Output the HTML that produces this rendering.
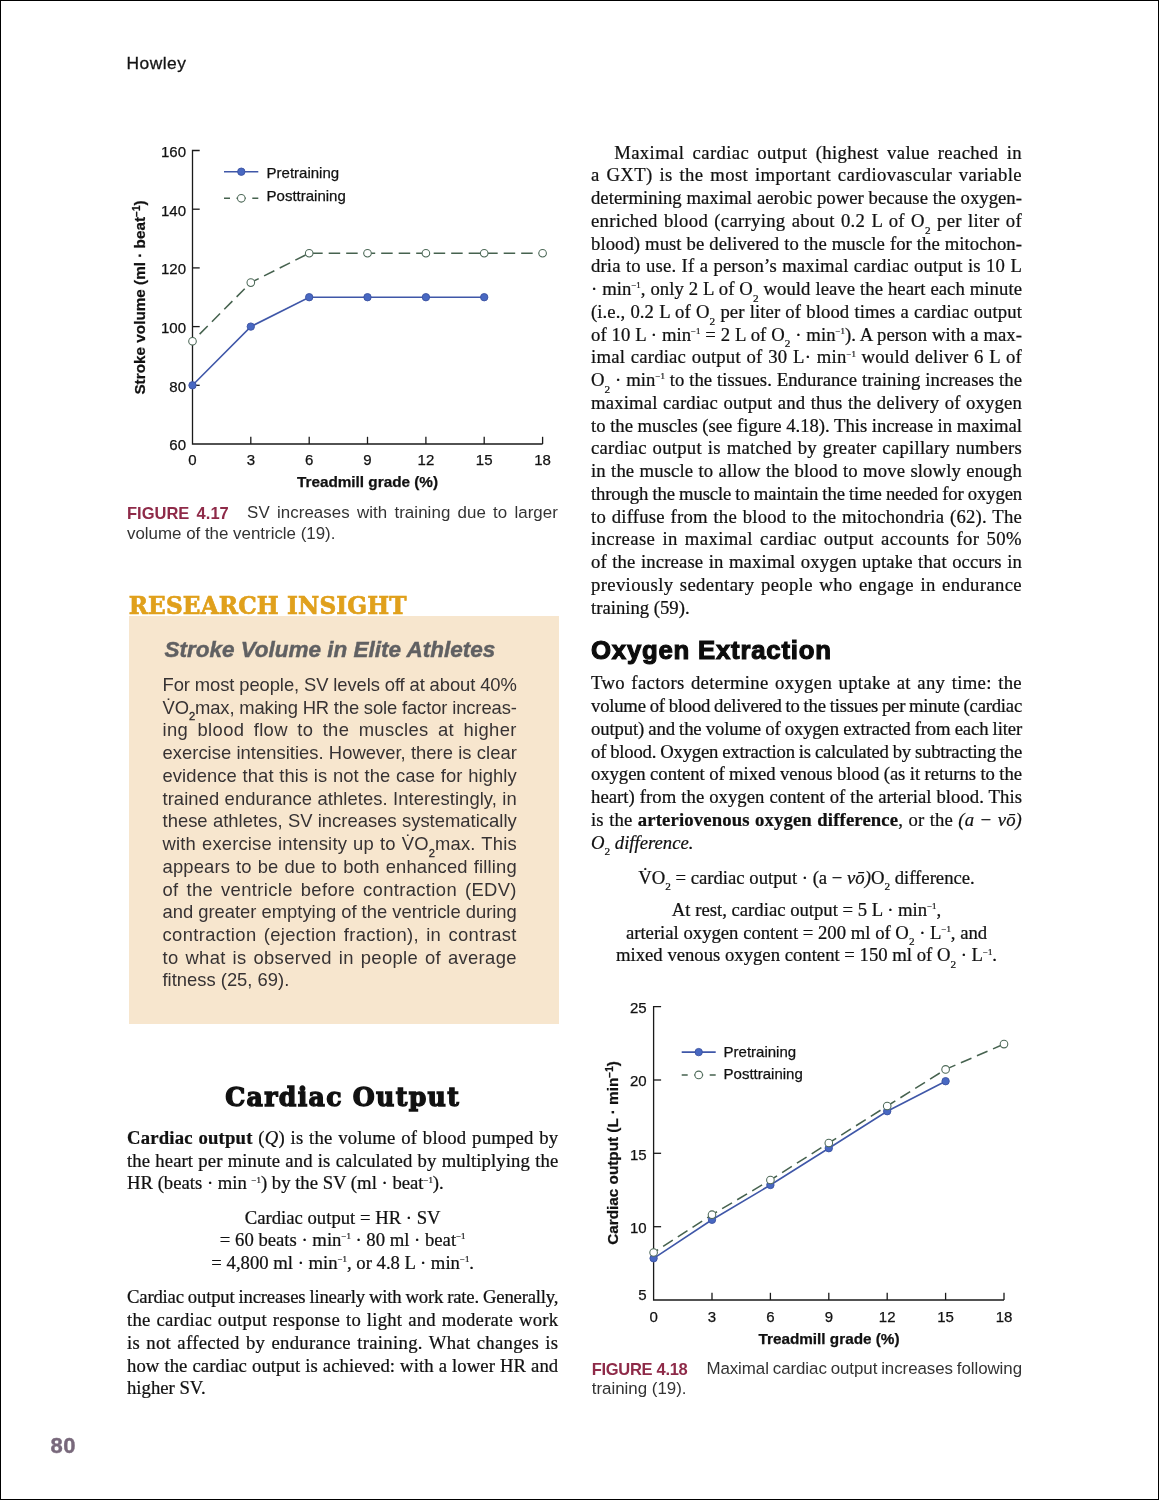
<!DOCTYPE html><html><head><meta charset="utf-8"><title>Howley p80</title><style>
html,body{margin:0;padding:0;background:#fff;}
#pg{position:relative;width:1157px;height:1498px;border:1px solid #000;overflow:hidden;background:#fff;}
.l{position:absolute;white-space:nowrap;margin:0;padding:0;}
.s{font-family:"Liberation Serif",serif;font-size:18.7px;line-height:22px;color:#111;-webkit-text-stroke:0.23px #111;}
.u{font-family:"Liberation Sans",sans-serif;font-size:18.4px;line-height:22px;color:#363233;}
.c{font-family:"Liberation Sans",sans-serif;font-size:16.9px;line-height:20px;color:#333;}
.j{text-align:justify;text-align-last:justify;}
.ctr{text-align:center;}
sub,sup{line-height:0;position:relative;vertical-align:baseline;}
sub{font-size:60%;top:0.6em;font-style:normal;}
sup{font-size:47%;top:-0.76em;letter-spacing:0;}
.u sub{font-size:60%;top:0.58em;-webkit-text-stroke:0.35px #262223;}
.u .vd .dt{left:-0.02em;top:-1.1em;}
.vd{position:relative;display:inline-block;line-height:0;}
.vd .dt{position:absolute;left:0.1em;right:0;text-align:left;top:-1.13em;font-style:normal;line-height:1em;font-weight:bold;}
.fig{color:#8e2a48;font-weight:bold;font-size:16.5px;}
svg{position:absolute;left:0;top:0;}
svg text{font-family:"Liberation Sans",sans-serif;font-size:15px;fill:#111;stroke:#111;stroke-width:0.25px;}

.hw{font-family:"Liberation Sans",sans-serif;font-size:17.4px;line-height:20px;color:#151515;letter-spacing:0.45px;-webkit-text-stroke:0.3px #151515;}
.ri{font-family:"DejaVu Serif",serif;font-weight:bold;font-size:23.2px;line-height:26px;color:#e0a01c;letter-spacing:0.15px;-webkit-text-stroke:0.7px #e0a01c;transform:scaleY(1.07);transform-origin:0 21px;}
.bt{font-family:"Liberation Sans",sans-serif;font-weight:bold;font-style:italic;font-size:22.5px;line-height:24px;color:#606062;letter-spacing:0px;-webkit-text-stroke:0.45px #606062;}
.oe{font-family:"Liberation Sans",sans-serif;font-weight:bold;font-size:25px;line-height:28px;color:#0c0c0c;letter-spacing:0.75px;-webkit-text-stroke:1.1px #0c0c0c;transform:scaleX(1.03);transform-origin:0 0;}
.co{font-family:"DejaVu Serif",serif;font-weight:bold;font-size:25.2px;line-height:30px;color:#111;letter-spacing:1.3px;-webkit-text-stroke:1.3px #111;}
.pn{font-family:"Liberation Sans",sans-serif;font-weight:bold;font-size:22px;line-height:24px;color:#78687b;letter-spacing:0.5px;-webkit-text-stroke:0.4px #78687b;}
#box{position:absolute;left:127.5px;top:615px;width:430.5px;height:407.8px;background:#f7e6ce;}
</style></head><body><div id="pg">
<div id="box"></div>
<svg width="1157" height="1498" viewBox="1 1 1157 1498">
<path d="M199.7 150.5H192.5V444.0H542.6" fill="none" stroke="#1a1a1a" stroke-width="1.3"/>
<path d="M192.5 385.3h7.2" stroke="#1a1a1a" stroke-width="1.3"/>
<path d="M192.5 326.6h7.2" stroke="#1a1a1a" stroke-width="1.3"/>
<path d="M192.5 267.9h7.2" stroke="#1a1a1a" stroke-width="1.3"/>
<path d="M192.5 209.2h7.2" stroke="#1a1a1a" stroke-width="1.3"/>
<path d="M250.8 444.0v-7.2" stroke="#1a1a1a" stroke-width="1.3"/>
<path d="M309.2 444.0v-7.2" stroke="#1a1a1a" stroke-width="1.3"/>
<path d="M367.5 444.0v-7.2" stroke="#1a1a1a" stroke-width="1.3"/>
<path d="M425.9 444.0v-7.2" stroke="#1a1a1a" stroke-width="1.3"/>
<path d="M484.2 444.0v-7.2" stroke="#1a1a1a" stroke-width="1.3"/>
<path d="M542.6 444.0v-7.2" stroke="#1a1a1a" stroke-width="1.3"/>
<text x="186.0" y="450.4" text-anchor="end">60</text>
<text x="186.0" y="391.7" text-anchor="end">80</text>
<text x="186.0" y="333.0" text-anchor="end">100</text>
<text x="186.0" y="274.3" text-anchor="end">120</text>
<text x="186.0" y="215.6" text-anchor="end">140</text>
<text x="186.0" y="156.9" text-anchor="end">160</text>
<text x="192.5" y="464.9" text-anchor="middle">0</text>
<text x="250.8" y="464.9" text-anchor="middle">3</text>
<text x="309.2" y="464.9" text-anchor="middle">6</text>
<text x="367.5" y="464.9" text-anchor="middle">9</text>
<text x="425.9" y="464.9" text-anchor="middle">12</text>
<text x="484.2" y="464.9" text-anchor="middle">15</text>
<text x="542.6" y="464.9" text-anchor="middle">18</text>
<text x="367.5" y="487.4" text-anchor="middle" font-weight="bold" style="font-size:15.3px">Treadmill grade (%)</text>
<text transform="translate(144.8,297.5) rotate(-90)" text-anchor="middle" font-weight="bold" style="font-size:15.3px">Stroke volume (ml · beat<tspan dy="-5" style="font-size:10px">−1</tspan><tspan dy="5">)</tspan></text>
<path d="M192.5 341.3 L250.8 282.6 L309.2 253.2 L367.5 253.2 L425.9 253.2 L484.2 253.2 L542.6 253.2" fill="none" stroke="#46624f" stroke-width="1.55" stroke-dasharray="11.5 6" stroke-dashoffset="7.4"/>
<path d="M192.5 385.3 L250.8 326.6 L309.2 297.2 L367.5 297.2 L425.9 297.2 L484.2 297.2" fill="none" stroke="#3f57a8" stroke-width="1.6"/>
<circle cx="192.5" cy="341.3" r="3.8" fill="#fff" stroke="#4d6958" stroke-width="1.05"/>
<circle cx="250.8" cy="282.6" r="3.8" fill="#fff" stroke="#4d6958" stroke-width="1.05"/>
<circle cx="309.2" cy="253.2" r="3.8" fill="#fff" stroke="#4d6958" stroke-width="1.05"/>
<circle cx="367.5" cy="253.2" r="3.8" fill="#fff" stroke="#4d6958" stroke-width="1.05"/>
<circle cx="425.9" cy="253.2" r="3.8" fill="#fff" stroke="#4d6958" stroke-width="1.05"/>
<circle cx="484.2" cy="253.2" r="3.8" fill="#fff" stroke="#4d6958" stroke-width="1.05"/>
<circle cx="542.6" cy="253.2" r="3.8" fill="#fff" stroke="#4d6958" stroke-width="1.05"/>
<circle cx="192.5" cy="385.3" r="3.7" fill="#4868c2" stroke="#3c52a2" stroke-width="0.9"/>
<circle cx="250.8" cy="326.6" r="3.7" fill="#4868c2" stroke="#3c52a2" stroke-width="0.9"/>
<circle cx="309.2" cy="297.2" r="3.7" fill="#4868c2" stroke="#3c52a2" stroke-width="0.9"/>
<circle cx="367.5" cy="297.2" r="3.7" fill="#4868c2" stroke="#3c52a2" stroke-width="0.9"/>
<circle cx="425.9" cy="297.2" r="3.7" fill="#4868c2" stroke="#3c52a2" stroke-width="0.9"/>
<circle cx="484.2" cy="297.2" r="3.7" fill="#4868c2" stroke="#3c52a2" stroke-width="0.9"/>
<path d="M224 171.7H258.3" stroke="#3f57a8" stroke-width="1.6"/><circle cx="241.3" cy="171.7" r="3.7" fill="#4868c2" stroke="#3c52a2" stroke-width="0.9"/>
<path d="M224 198.3H258.3" stroke="#46624f" stroke-width="1.55" stroke-dasharray="6 6.5 9.3 6.5 6"/><circle cx="241.3" cy="198.3" r="3.8" fill="#fff" stroke="#4d6958" stroke-width="1.05"/>
<text x="266.6" y="177.7">Pretraining</text><text x="266.6" y="200.5">Posttraining</text>
<path d="M661.1 1006.6H653.6V1300.0H1004.0" fill="none" stroke="#1a1a1a" stroke-width="1.3"/>
<path d="M653.6 1226.7h7.5" stroke="#1a1a1a" stroke-width="1.3"/>
<path d="M653.6 1153.3h7.5" stroke="#1a1a1a" stroke-width="1.3"/>
<path d="M653.6 1080.0h7.5" stroke="#1a1a1a" stroke-width="1.3"/>
<path d="M712.0 1300.0v-7.2" stroke="#1a1a1a" stroke-width="1.3"/>
<path d="M770.4 1300.0v-7.2" stroke="#1a1a1a" stroke-width="1.3"/>
<path d="M828.8 1300.0v-7.2" stroke="#1a1a1a" stroke-width="1.3"/>
<path d="M887.2 1300.0v-7.2" stroke="#1a1a1a" stroke-width="1.3"/>
<path d="M945.6 1300.0v-7.2" stroke="#1a1a1a" stroke-width="1.3"/>
<path d="M1004.0 1300.0v-7.2" stroke="#1a1a1a" stroke-width="1.3"/>
<text x="646.6" y="1233.1" text-anchor="end">10</text>
<text x="646.6" y="1159.7" text-anchor="end">15</text>
<text x="646.6" y="1086.4" text-anchor="end">20</text>
<text x="646.6" y="1013.0" text-anchor="end">25</text>
<text x="646.6" y="1299.7" text-anchor="end">5</text>
<text x="653.6" y="1322.0" text-anchor="middle">0</text>
<text x="712.0" y="1322.0" text-anchor="middle">3</text>
<text x="770.4" y="1322.0" text-anchor="middle">6</text>
<text x="828.8" y="1322.0" text-anchor="middle">9</text>
<text x="887.2" y="1322.0" text-anchor="middle">12</text>
<text x="945.6" y="1322.0" text-anchor="middle">15</text>
<text x="1004.0" y="1322.0" text-anchor="middle">18</text>
<text x="829.0" y="1343.8" text-anchor="middle" font-weight="bold" style="font-size:15.3px">Treadmill grade (%)</text>
<text transform="translate(618.0,1153.0) rotate(-90)" text-anchor="middle" font-weight="bold" style="font-size:15.3px">Cardiac output (L · min<tspan dy="-5" style="font-size:10px">−1</tspan><tspan dy="5">)</tspan></text>
<path d="M653.6 1252.5 L712.0 1214.7 L770.4 1180.0 L828.8 1143.0 L887.2 1106.0 L945.6 1069.4 L1004.0 1044.1" fill="none" stroke="#46624f" stroke-width="1.55" stroke-dasharray="11.5 6" stroke-dashoffset="6.15"/>
<path d="M653.6 1258.3 L712.0 1219.8 L770.4 1185.0 L828.8 1148.2 L887.2 1111.2 L945.6 1081.2" fill="none" stroke="#3f57a8" stroke-width="1.6"/>
<circle cx="653.6" cy="1258.3" r="3.7" fill="#4868c2" stroke="#3c52a2" stroke-width="0.9"/>
<circle cx="712.0" cy="1219.8" r="3.7" fill="#4868c2" stroke="#3c52a2" stroke-width="0.9"/>
<circle cx="770.4" cy="1185.0" r="3.7" fill="#4868c2" stroke="#3c52a2" stroke-width="0.9"/>
<circle cx="828.8" cy="1148.2" r="3.7" fill="#4868c2" stroke="#3c52a2" stroke-width="0.9"/>
<circle cx="887.2" cy="1111.2" r="3.7" fill="#4868c2" stroke="#3c52a2" stroke-width="0.9"/>
<circle cx="945.6" cy="1081.2" r="3.7" fill="#4868c2" stroke="#3c52a2" stroke-width="0.9"/>
<circle cx="653.6" cy="1252.5" r="3.8" fill="#fff" stroke="#4d6958" stroke-width="1.05"/>
<circle cx="712.0" cy="1214.7" r="3.8" fill="#fff" stroke="#4d6958" stroke-width="1.05"/>
<circle cx="770.4" cy="1180.0" r="3.8" fill="#fff" stroke="#4d6958" stroke-width="1.05"/>
<circle cx="828.8" cy="1143.0" r="3.8" fill="#fff" stroke="#4d6958" stroke-width="1.05"/>
<circle cx="887.2" cy="1106.0" r="3.8" fill="#fff" stroke="#4d6958" stroke-width="1.05"/>
<circle cx="945.6" cy="1069.4" r="3.8" fill="#fff" stroke="#4d6958" stroke-width="1.05"/>
<circle cx="1004.0" cy="1044.1" r="3.8" fill="#fff" stroke="#4d6958" stroke-width="1.05"/>
<path d="M681.7 1052.1H715.7" stroke="#3f57a8" stroke-width="1.6"/><circle cx="698.7" cy="1052.1" r="3.7" fill="#4868c2" stroke="#3c52a2" stroke-width="0.9"/>
<path d="M681.7 1074.9H715.7" stroke="#46624f" stroke-width="1.55" stroke-dasharray="6 6.5 9 6.5 6"/><circle cx="698.7" cy="1074.9" r="3.8" fill="#fff" stroke="#4d6958" stroke-width="1.05"/>
<text x="723.6" y="1056.5">Pretraining</text><text x="723.6" y="1079.2">Posttraining</text>
</svg>
<div id="L0" class="l s j" style="left:613.20px;top:140.65px;width:407.80px;letter-spacing:0.374px;">Maximal cardiac output (highest value reached in</div>
<div id="L1" class="l s j" style="left:590.00px;top:163.39px;width:431.00px;letter-spacing:0.374px;">a GXT) is the most important cardiovascular variable</div>
<div id="L2" class="l s j" style="left:590.00px;top:186.14px;width:431.00px;letter-spacing:0.031px;">determining maximal aerobic power because the oxygen-</div>
<div id="L3" class="l s j" style="left:590.00px;top:208.88px;width:431.00px;letter-spacing:0.302px;">enriched blood (carrying about 0.2 L of O<sub>2</sub> per liter of</div>
<div id="L4" class="l s j" style="left:590.00px;top:231.63px;width:431.00px;letter-spacing:0.053px;">blood) must be delivered to the muscle for the mitochon-</div>
<div id="L5" class="l s j" style="left:590.00px;top:254.38px;width:431.00px;letter-spacing:0.134px;">dria to use. If a person’s maximal cardiac output is 10 L</div>
<div id="L6" class="l s j" style="left:590.00px;top:277.12px;width:431.00px;letter-spacing:0.049px;">· min<sup>−1</sup>, only 2 L of O<sub>2</sub> would leave the heart each minute</div>
<div id="L7" class="l s j" style="left:590.00px;top:299.86px;width:431.00px;letter-spacing:0.090px;">(i.e., 0.2 L of O<sub>2</sub> per liter of blood times a cardiac output</div>
<div id="L8" class="l s j" style="left:590.00px;top:322.61px;width:431.00px;letter-spacing:0.038px;">of 10 L · min<sup>−1</sup> = 2 L of O<sub>2</sub> · min<sup>−1</sup>). A person with a max-</div>
<div id="L9" class="l s j" style="left:590.00px;top:345.35px;width:431.00px;letter-spacing:0.201px;">imal cardiac output of 30 L· min<sup>−1</sup> would deliver 6 L of</div>
<div id="L10" class="l s j" style="left:590.00px;top:368.10px;width:431.00px;letter-spacing:0.042px;">O<sub>2</sub> · min<sup>−1</sup> to the tissues. Endurance training increases the</div>
<div id="L11" class="l s j" style="left:590.00px;top:390.84px;width:431.00px;letter-spacing:0.158px;">maximal cardiac output and thus the delivery of oxygen</div>
<div id="L12" class="l s j" style="left:590.00px;top:413.59px;width:431.00px;letter-spacing:-0.012px;word-spacing:-0.050px;">to the muscles (see figure 4.18). This increase in maximal</div>
<div id="L13" class="l s j" style="left:590.00px;top:436.33px;width:431.00px;letter-spacing:0.248px;">cardiac output is matched by greater capillary numbers</div>
<div id="L14" class="l s j" style="left:590.00px;top:459.08px;width:431.00px;letter-spacing:0.122px;">in the muscle to allow the blood to move slowly enough</div>
<div id="L15" class="l s j" style="left:590.00px;top:481.82px;width:431.00px;letter-spacing:-0.134px;word-spacing:-0.355px;">through the muscle to maintain the time needed for oxygen</div>
<div id="L16" class="l s j" style="left:590.00px;top:504.57px;width:431.00px;letter-spacing:0.213px;">to diffuse from the blood to the mitochondria (62). The</div>
<div id="L17" class="l s j" style="left:590.00px;top:527.32px;width:431.00px;letter-spacing:0.374px;">increase in maximal cardiac output accounts for 50%</div>
<div id="L18" class="l s j" style="left:590.00px;top:550.06px;width:431.00px;letter-spacing:0.144px;">of the increase in maximal oxygen uptake that occurs in</div>
<div id="L19" class="l s j" style="left:590.00px;top:572.81px;width:431.00px;letter-spacing:0.347px;">previously sedentary people who engage in endurance</div>
<div id="L20" class="l s" style="left:590.00px;top:595.55px;">training (59).</div>
<div id="L21" class="l s j" style="left:590.00px;top:671.45px;width:431.00px;letter-spacing:0.336px;">Two factors determine oxygen uptake at any time: the</div>
<div id="L22" class="l s j" style="left:590.00px;top:694.20px;width:431.00px;letter-spacing:-0.217px;word-spacing:-0.562px;">volume of blood delivered to the tissues per minute (cardiac</div>
<div id="L23" class="l s j" style="left:590.00px;top:716.94px;width:431.00px;letter-spacing:-0.132px;word-spacing:-0.349px;">output) and the volume of oxygen extracted from each liter</div>
<div id="L24" class="l s j" style="left:590.00px;top:739.69px;width:431.00px;letter-spacing:-0.198px;word-spacing:-0.514px;">of blood. Oxygen extraction is calculated by subtracting the</div>
<div id="L25" class="l s j" style="left:590.00px;top:762.43px;width:431.00px;letter-spacing:-0.060px;word-spacing:-0.170px;">oxygen content of mixed venous blood (as it returns to the</div>
<div id="L26" class="l s j" style="left:590.00px;top:785.18px;width:431.00px;letter-spacing:0.050px;">heart) from the oxygen content of the arterial blood. This</div>
<div id="L27" class="l s j" style="left:590.00px;top:807.92px;width:431.00px;letter-spacing:0.140px;">is the <b>arteriovenous oxygen difference</b>, or the <i>(a − vō)</i></div>
<div id="L28" class="l s" style="left:590.00px;top:830.67px;"><i>O<sub>2</sub> difference.</i></div>
<div id="L29" class="l s ctr" style="left:590.00px;top:865.50px;width:431.00px;">V̇O<sub>2</sub> = cardiac output · (a − <i>vō)</i>O<sub>2</sub> difference.</div>
<div id="L30" class="l s ctr" style="left:590.00px;top:898.10px;width:431.00px;">At rest, cardiac output = 5 L · min<sup>−1</sup>,</div>
<div id="L31" class="l s ctr" style="left:590.00px;top:920.50px;width:431.00px;">arterial oxygen content = 200 ml of O<sub>2</sub> · L<sup>−1</sup>, and</div>
<div id="L32" class="l s ctr" style="left:590.00px;top:943.40px;width:431.00px;">mixed venous oxygen content = 150 ml of O<sub>2</sub> · L<sup>−1</sup>.</div>
<div id="L33" class="l s j" style="left:126.00px;top:1126.20px;width:431.30px;letter-spacing:0.200px;"><b>Cardiac output</b> (<i>Q</i>) is the volume of blood pumped by</div>
<div id="L34" class="l s j" style="left:126.00px;top:1148.90px;width:431.30px;letter-spacing:0.100px;">the heart per minute and is calculated by multiplying the</div>
<div id="L35" class="l s" style="left:126.00px;top:1171.30px;">HR (beats · min <sup>−1</sup>) by the SV (ml · beat<sup>−1</sup>).</div>
<div id="L36" class="l s ctr" style="left:126.00px;top:1205.70px;width:431.30px;">Cardiac output = HR · SV</div>
<div id="L37" class="l s ctr" style="left:126.00px;top:1228.10px;width:431.30px;">= 60 beats · min<sup>−1</sup> · 80 ml · beat<sup>−1</sup></div>
<div id="L38" class="l s ctr" style="left:126.00px;top:1250.70px;width:431.30px;">= 4,800 ml · min<sup>−1</sup>, or 4.8 L · min<sup>−1</sup>.</div>
<div id="L39" class="l s j" style="left:126.00px;top:1285.40px;width:431.30px;letter-spacing:-0.184px;word-spacing:-0.480px;">Cardiac output increases linearly with work rate. Generally,</div>
<div id="L40" class="l s j" style="left:126.00px;top:1308.20px;width:431.30px;letter-spacing:0.233px;">the cardiac output response to light and moderate work</div>
<div id="L41" class="l s j" style="left:126.00px;top:1330.70px;width:431.30px;letter-spacing:0.307px;">is not affected by endurance training. What changes is</div>
<div id="L42" class="l s j" style="left:126.00px;top:1353.80px;width:431.30px;letter-spacing:0.071px;">how the cardiac output is achieved: with a lower HR and</div>
<div id="L43" class="l s" style="left:126.00px;top:1375.90px;">higher SV.</div>
<div id="L44" class="l u j" style="left:161.50px;top:673.00px;width:354.30px;letter-spacing:-0.066px;word-spacing:-0.186px;">For most people, SV levels off at about 40%</div>
<div id="L45" class="l u j" style="left:161.50px;top:695.73px;width:354.30px;letter-spacing:-0.095px;word-spacing:-0.256px;">V̇O<sub>2</sub>max, making HR the sole factor increas-</div>
<div id="L46" class="l u j" style="left:161.50px;top:718.46px;width:354.30px;letter-spacing:0.368px;">ing blood flow to the muscles at higher</div>
<div id="L47" class="l u j" style="left:161.50px;top:741.19px;width:354.30px;letter-spacing:0.025px;">exercise intensities. However, there is clear</div>
<div id="L48" class="l u j" style="left:161.50px;top:763.92px;width:354.30px;letter-spacing:0.099px;">evidence that this is not the case for highly</div>
<div id="L49" class="l u j" style="left:161.50px;top:786.65px;width:354.30px;letter-spacing:0.065px;">trained endurance athletes. Interestingly, in</div>
<div id="L50" class="l u j" style="left:161.50px;top:809.38px;width:354.30px;letter-spacing:0.028px;">these athletes, SV increases systematically</div>
<div id="L51" class="l u j" style="left:161.50px;top:832.11px;width:354.30px;letter-spacing:0.180px;">with exercise intensity up to V̇O<sub>2</sub>max. This</div>
<div id="L52" class="l u j" style="left:161.50px;top:854.84px;width:354.30px;letter-spacing:0.166px;">appears to be due to both enhanced filling</div>
<div id="L53" class="l u j" style="left:161.50px;top:877.57px;width:354.30px;letter-spacing:0.368px;">of the ventricle before contraction (EDV)</div>
<div id="L54" class="l u j" style="left:161.50px;top:900.30px;width:354.30px;letter-spacing:-0.008px;word-spacing:-0.039px;">and greater emptying of the ventricle during</div>
<div id="L55" class="l u j" style="left:161.50px;top:923.03px;width:354.30px;letter-spacing:0.368px;">contraction (ejection fraction), in contrast</div>
<div id="L56" class="l u j" style="left:161.50px;top:945.76px;width:354.30px;letter-spacing:0.349px;">to what is observed in people of average</div>
<div id="L57" class="l u" style="left:161.50px;top:968.49px;">fitness (25, 69).</div>
<div id="L58" class="l c" style="left:126.00px;top:502.00px;word-spacing:2.7px;"><span class="fig">FIGURE 4.17</span></div>
<div id="L59" class="l c j" style="left:246.10px;top:502.00px;width:310.90px;letter-spacing:0.068px;">SV increases with training due to larger</div>
<div id="L60" class="l c" style="left:126.00px;top:522.90px;">volume of the ventricle (19).</div>
<div id="L61" class="l c" style="left:590.70px;top:1357.60px;letter-spacing:-0.3px;"><span class="fig">FIGURE 4.18</span></div>
<div id="L62" class="l c j" style="left:705.40px;top:1357.60px;width:315.60px;letter-spacing:-0.060px;word-spacing:-0.764px;">Maximal cardiac output increases following</div>
<div id="L63" class="l c" style="left:590.70px;top:1378.30px;">training (19).</div>
<div id="L64" class="l hw" style="left:125.60px;top:52.00px;">Howley</div>
<div id="L65" class="l ri" style="left:127.70px;top:592.20px;">RESEARCH INSIGHT</div>
<div id="L66" class="l bt" style="left:163.40px;top:636.50px;">Stroke Volume in Elite Athletes</div>
<div id="L67" class="l oe" style="left:590.30px;top:634.60px;">Oxygen Extraction</div>
<div id="L68" class="l co ctr" style="left:126.00px;top:1080.50px;width:431.30px;">Cardiac Output</div>
<div id="L69" class="l pn" style="left:49.60px;top:1432.90px;">80</div>
</div></body></html>
